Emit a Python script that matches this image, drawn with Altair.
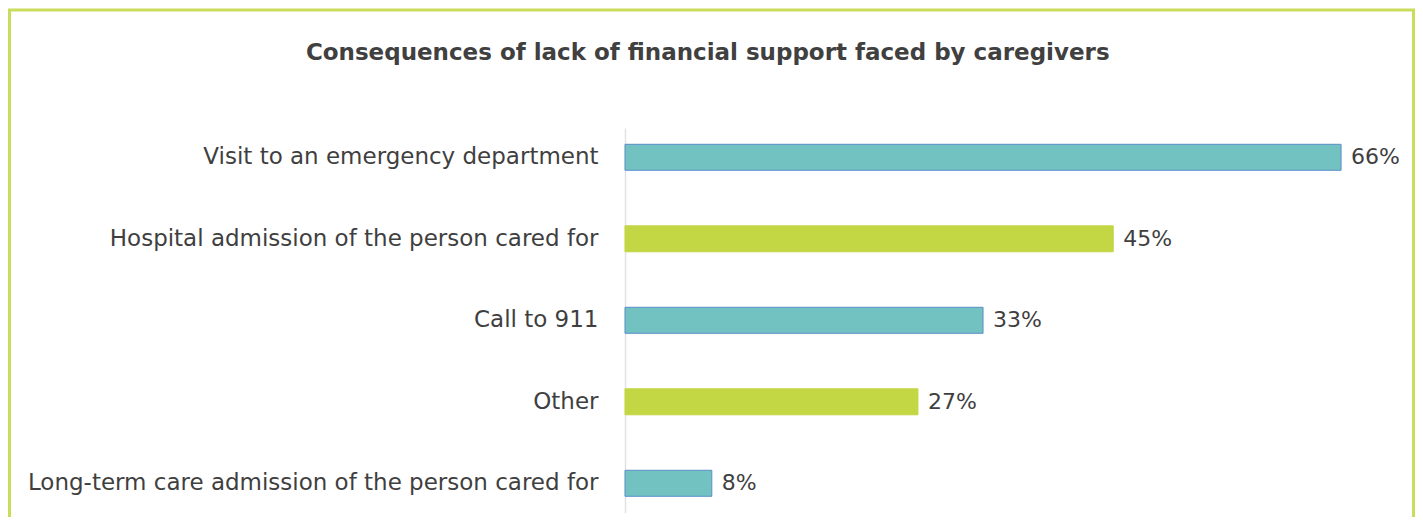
import altair as alt
import pandas as pd

categories = [
    "Visit to an emergency department",
    "Hospital admission of the person cared for",
    "Call to 911",
    "Other",
    "Long-term care admission of the person cared for",
]
values = [66, 45, 33, 27, 8]
title_text = "Consequences of lack of financial support faced by caregivers"

df = pd.DataFrame({
    "category": categories,
    "value": values,
    "shade": ["a" if i % 2 == 0 else "b" for i in range(len(categories))],
    "label": [f"{v}%" for v in values],
})

FONT = "DejaVu Sans"
W = 759.5
H = 384.6

base = alt.Chart(df).encode(
    y=alt.Y(
        "category:N",
        sort=None,
        title=None,
        scale=alt.Scale(paddingInner=0.681, paddingOuter=0.2),
        axis=alt.Axis(
            domain=True, domainColor="#e2e2e2", domainWidth=1.5,
            ticks=False, grid=False, labelPadding=27,
            labelFont=FONT, labelFontSize=23, labelColor="#3f3f3f",
            labelLimit=700,
        ),
    ),
)

bars = base.mark_bar(strokeWidth=1).encode(
    x=alt.X("value:Q", scale=alt.Scale(domain=[0, 70]), axis=None),
    color=alt.Color("shade:N", scale=alt.Scale(domain=["a", "b"], range=["#72c2c2", "#c3d643"]), legend=None),
    stroke=alt.Stroke("shade:N", scale=alt.Scale(domain=["a", "b"], range=["#5b8ec9", "#c3d643"]), legend=None),
)

labels = base.mark_text(align="left", baseline="middle", dx=10, font=FONT, fontSize=22, color="#3f3f3f").encode(
    x=alt.X("value:Q"),
    text="label:N",
)

border = alt.Chart(pd.DataFrame({"b": [0]})).mark_rect(
    fillOpacity=0, stroke="#c9dc5b", strokeWidth=3
).encode(
    x=alt.value(-615.5), x2=alt.value(788.5),
    y=alt.value(-118), y2=alt.value(440),
)

chart = alt.layer(border, bars, labels).properties(
    width=W,
    height=H,
    title=alt.TitleParams(
        title_text, anchor="middle", frame="group", dx=-297, offset=-57,
        font="DejaVu Sans", fontSize=23, fontWeight="bold", color="#404040",
    ),
    autosize=alt.AutoSizeParams(type="none"),
    padding={"left": 617, "top": 120, "right": 30.5, "bottom": 4},
).configure_view(stroke=None)

chart.save("out.html", embed_options={"renderer": "svg", "actions": False})
